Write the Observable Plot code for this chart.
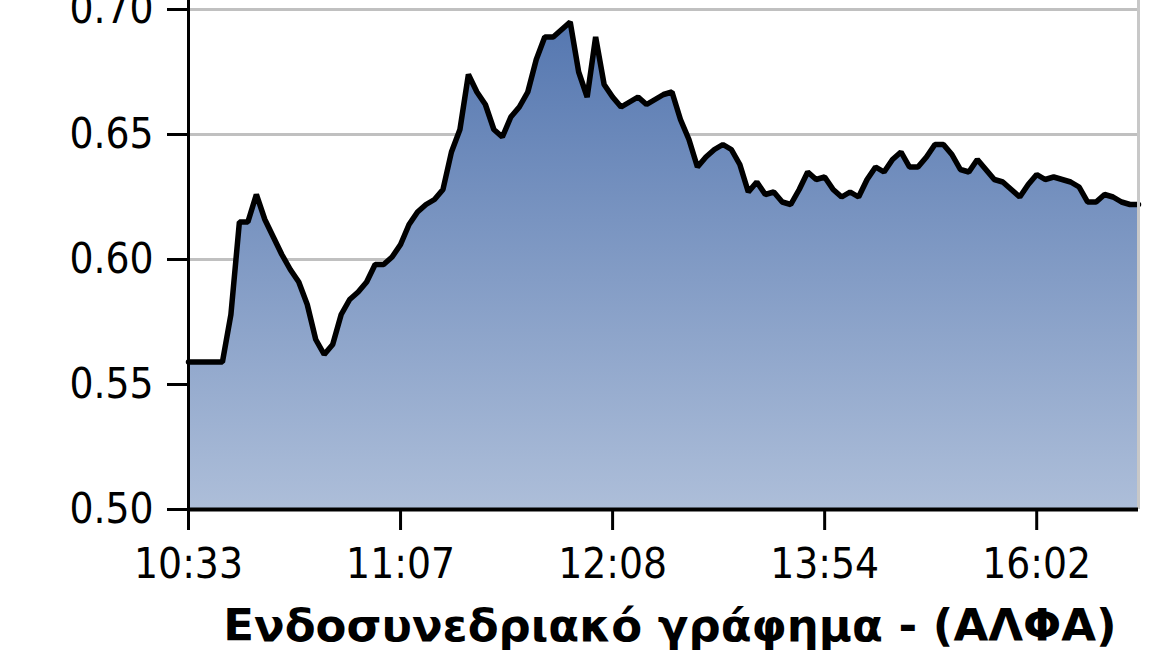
<!DOCTYPE html>
<html>
<head>
<meta charset="utf-8">
<script src="https://cdn.jsdelivr.net/npm/d3@7"></script>
<script src="https://cdn.jsdelivr.net/npm/@observablehq/plot@0.6"></script>
<style>
  html, body { margin: 0; padding: 0; background: white; }
  #wrap { width: 1160px; height: 670px; overflow: hidden; position: relative; }
  #title { position: absolute; left: 180px; right: 0; top: 600px; text-align: center;
           font-family: "DejaVu Sans", Verdana, sans-serif; font-weight: bold; font-size: 45px;
           line-height: 52px; color: #000; white-space: nowrap; }
</style>
</head>
<body>
<div id="wrap"><div id="chart"></div><div id="title">Ενδοσυνεδριακό γράφημα - (ΑΛΦΑ)</div></div>
<script>
// Tick labels (time of trade) and their positions on the trade index axis
const timeLabels = ["10:33", "11:07", "12:08", "13:54", "16:02"];
const timePositions = [0, 50, 100, 150, 200];
const yTicks = [0.50, 0.55, 0.60, 0.65, 0.70];
const indexStep = 2;
// Price of ALPHA, sampled along the trade index
const prices = [
  0.559, 0.559, 0.559, 0.559, 0.559, 0.578, 0.615, 0.615, 0.626, 0.616,
  0.609, 0.602, 0.596, 0.591, 0.582, 0.568, 0.562, 0.566, 0.578, 0.584,
  0.587, 0.591, 0.598, 0.598, 0.601, 0.606, 0.614, 0.619, 0.622, 0.624,
  0.628, 0.643, 0.652, 0.674, 0.667, 0.662, 0.652, 0.649, 0.657, 0.661,
  0.667, 0.680, 0.689, 0.689, 0.692, 0.695, 0.675, 0.665, 0.689, 0.670,
  0.665, 0.661, 0.663, 0.665, 0.662, 0.664, 0.666, 0.667, 0.656, 0.648,
  0.637, 0.641, 0.644, 0.646, 0.644, 0.638, 0.627, 0.631, 0.626, 0.627,
  0.623, 0.622, 0.628, 0.635, 0.632, 0.633, 0.628, 0.625, 0.627, 0.625,
  0.632, 0.637, 0.635, 0.640, 0.643, 0.637, 0.637, 0.641, 0.646, 0.646,
  0.642, 0.636, 0.635, 0.640, 0.636, 0.632, 0.631, 0.628, 0.625, 0.630,
  0.634, 0.632, 0.633, 0.632, 0.631, 0.629, 0.623, 0.623, 0.626, 0.625,
  0.623, 0.622, 0.622
];

const data = prices.map((v, i) => ({ idx: i * indexStep, price: v }));
const xMax = (prices.length - 1) * indexStep;
const tickFont = "'Liberation Sans Narrow', 'Arial Narrow', 'DejaVu Sans Condensed', sans-serif";

const chart = Plot.plot({
  width: 1160,
  height: 600,
  marginLeft: 188,
  marginRight: 22,
  marginTop: 0,
  marginBottom: 91,
  x: { domain: [0, xMax] },
  y: { domain: [0.5, 0.7036] },
  style: { fontFamily: tickFont, fontSize: "42px", color: "black", background: "white" },
  marks: [
    Plot.gridY(yTicks, { stroke: "#c0c0c0", strokeOpacity: 1, strokeWidth: 3 }),
    Plot.areaY(data, { x: "idx", y1: 0.5, y2: "price", fill: "url(#alphaGrad)" }),
    Plot.lineY(data, { x: "idx", y: "price", stroke: "black", strokeWidth: 5.5, strokeLinejoin: "miter" }),
    Plot.ruleX([xMax], { stroke: "#c8c8c8", strokeWidth: 3 }),
    Plot.ruleX([0], { stroke: "black", strokeWidth: 3 }),
    Plot.ruleY([0.5], { stroke: "black", strokeWidth: 4 }),
    Plot.axisY(yTicks, { tickSize: 21, tickPadding: 14, strokeWidth: 3, tickFormat: d => d.toFixed(2), fontSize: 42, label: null }),
    Plot.axisX(timePositions, { tickSize: 21, tickPadding: 18, strokeWidth: 3, tickFormat: (d, i) => timeLabels[i], fontSize: 42, label: null })
  ]
});

// gradient definition for the area fill
const ns = "http://www.w3.org/2000/svg";
const defs = document.createElementNS(ns, "defs");
const grad = document.createElementNS(ns, "linearGradient");
grad.setAttribute("id", "alphaGrad");
grad.setAttribute("gradientUnits", "userSpaceOnUse");
grad.setAttribute("x1", "0"); grad.setAttribute("x2", "0");
grad.setAttribute("y1", "20"); grad.setAttribute("y2", "509");
[["0", "#5577b0"], ["1", "#adbed9"]].forEach(([o, c]) => {
  const s = document.createElementNS(ns, "stop");
  s.setAttribute("offset", o); s.setAttribute("stop-color", c);
  grad.appendChild(s);
});
defs.appendChild(grad);
chart.insertBefore(defs, chart.firstChild);

document.getElementById("chart").appendChild(chart);
</script>
</body>
</html>
